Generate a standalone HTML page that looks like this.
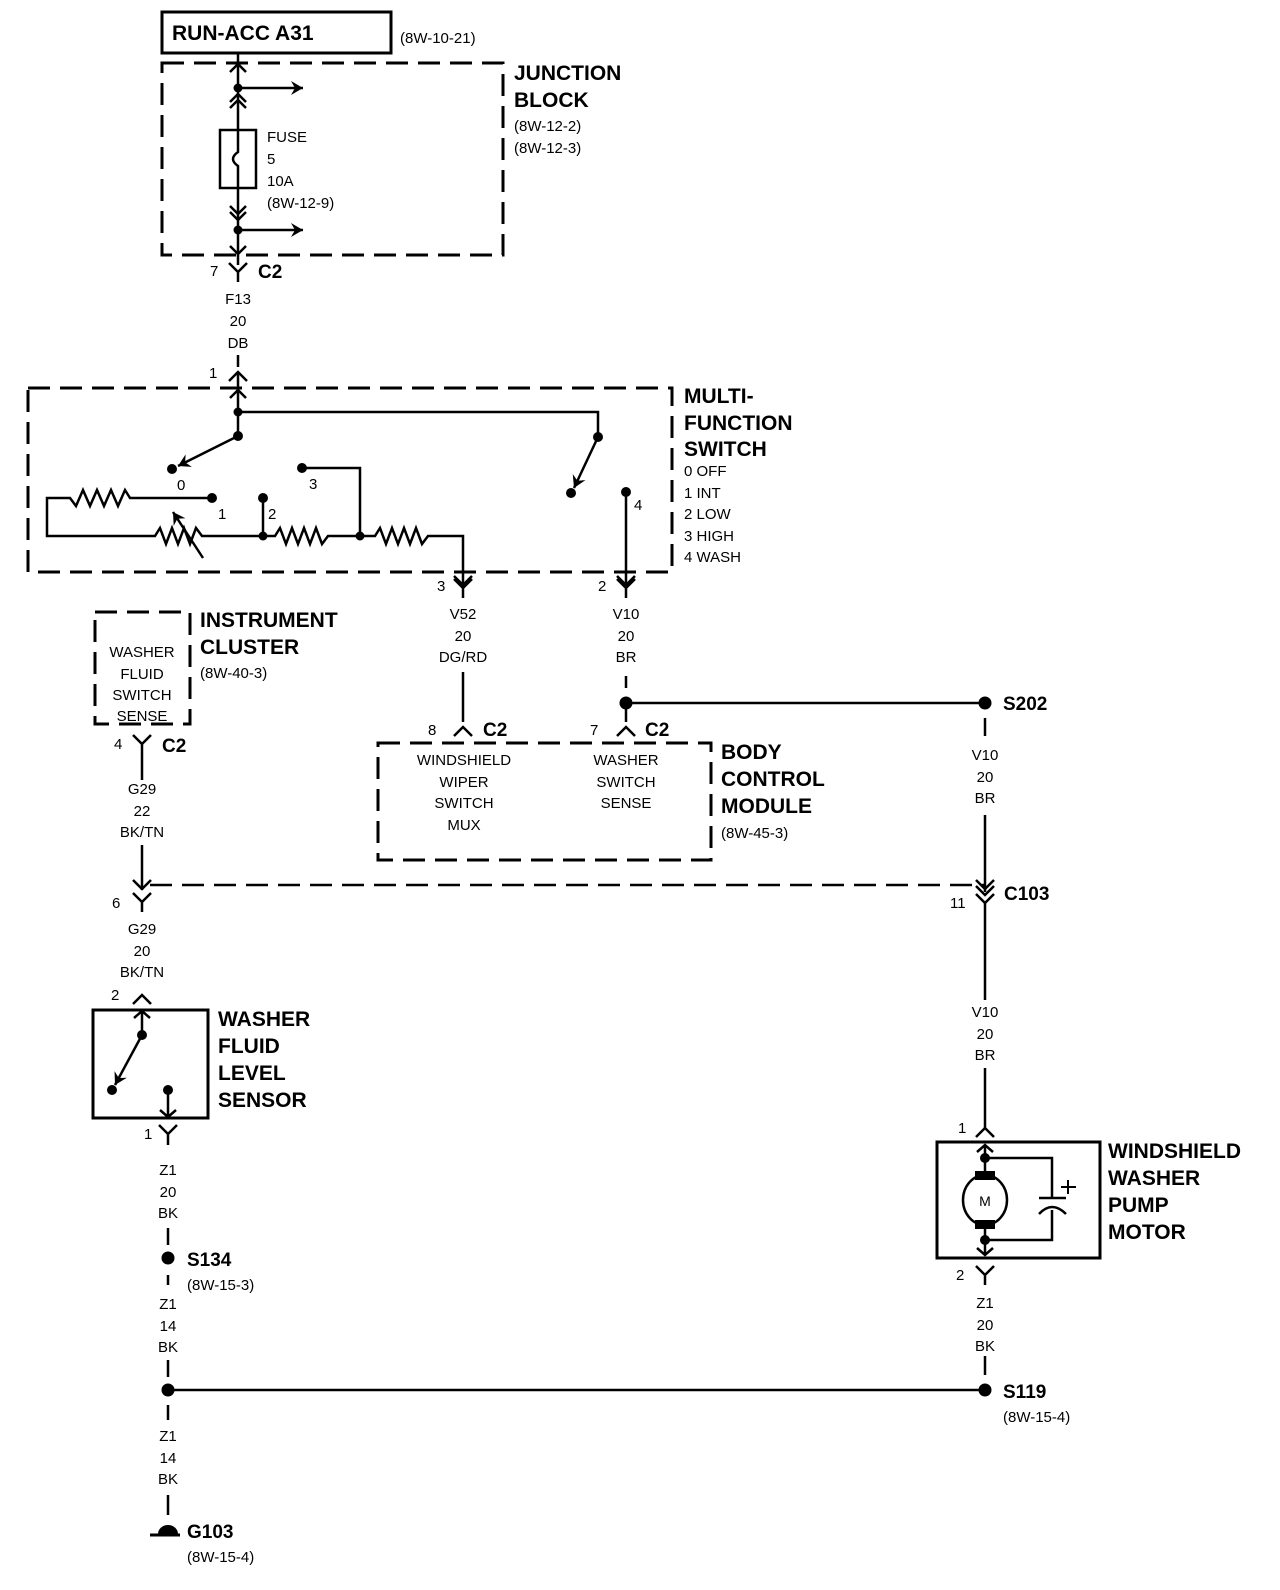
<!DOCTYPE html>
<html><head><meta charset="utf-8"><style>
html,body{margin:0;padding:0;background:#fff}
svg{display:block}
text{font-family:"Liberation Sans",sans-serif;fill:#000}
.b{font-weight:bold;font-size:21px}
.s{font-size:15px}
.c{text-anchor:middle}
</style></head><body>
<svg width="1280" height="1590" viewBox="0 0 1280 1590" xmlns="http://www.w3.org/2000/svg">
<defs>
<marker id="ar" markerWidth="14" markerHeight="14" refX="12" refY="7" orient="auto" markerUnits="userSpaceOnUse"><path d="M0,0 L12,7 L0,14 L4,7 Z" fill="#000"/></marker>
</defs>
<g stroke="#000" stroke-width="2.5" fill="none">
<rect x="162" y="12" width="229" height="41" stroke-width="3"/>
<rect x="162" y="63" width="341" height="192" stroke-dasharray="22,10" stroke-width="3"/>
<line x1="238" y1="53" x2="238" y2="130"/>
<line x1="238" y1="188" x2="238" y2="265"/>
<rect x="220" y="130" width="36" height="58"/>
<path d="M238,130 V152 Q228,159 238,166 V188"/>
<line x1="238" y1="88" x2="303" y2="88" marker-end="url(#ar)"/>
<line x1="238" y1="230" x2="303" y2="230" marker-end="url(#ar)"/>
<path d="M230,72 L238,64 L246,72 M230,102 L238,94 L246,102 M230,108 L238,100 L246,108"/>
<path d="M230,206 L238,214 L246,206 M230,212 L238,220 L246,212 M230,246 L238,254 L246,246"/>
<path d="M229,263 L238,272 L247,263 M238,272 V282"/>
<line x1="238" y1="355" x2="238" y2="367"/>
<path d="M229,381 L238,372 L247,381 M238,372 V412"/>
<rect x="28" y="388" width="644" height="184" stroke-dasharray="22,10" stroke-width="3"/>
<path d="M230,398 L238,390 L246,398"/>
<path d="M238,412 H598 V437"/>
<line x1="238" y1="412" x2="238" y2="436"/>
<line x1="238" y1="436" x2="178" y2="466" marker-end="url(#ar)"/>
<line x1="598" y1="437" x2="574" y2="488" marker-end="url(#ar)"/>
<path d="M302,468 H360 V536"/>
<path d="M212,498 H130 L125,490 L118,506 L111,490 L104,506 L97,490 L90,506 L83,490 L76,506 L70,498 H47 V536 H155 L160,528 L166,544 L172,528 L178,544 L184,528 L190,544 L196,528 L202,536 H275 L280,528 L286,544 L292,528 L298,544 L304,528 L310,544 L316,528 L322,544 L328,536 H375 L380,528 L386,544 L392,528 L398,544 L404,528 L410,544 L416,528 L422,544 L428,536 H463 V584"/>
<line x1="203" y1="558" x2="173" y2="512" marker-end="url(#ar)"/>
<line x1="263" y1="498" x2="263" y2="536"/>
<path d="M454,576 L463,585 L472,576"/>
<line x1="626" y1="492" x2="626" y2="584"/>
<path d="M617,576 L626,585 L635,576"/>
<path d="M454,579 L463,588 L472,579 M463,588 V598"/>
<path d="M617,579 L626,588 L635,579 M626,588 V598"/>
<line x1="463" y1="672" x2="463" y2="722"/>
<path d="M454,736 L463,727 L472,736"/>
<line x1="626" y1="676" x2="626" y2="688"/>
<line x1="626" y1="703" x2="626" y2="722"/>
<path d="M617,736 L626,727 L635,736"/>
<line x1="626" y1="703" x2="985" y2="703"/>
<rect x="378" y="743" width="333" height="117" stroke-dasharray="22,10" stroke-width="3"/>
<line x1="985" y1="718" x2="985" y2="736"/>
<line x1="985" y1="815" x2="985" y2="892"/>
<path d="M976,880 L985,889 L994,880 M976,886 L985,895 L994,886 M976,894 L985,903 L994,894"/>
<line x1="985" y1="903" x2="985" y2="1000"/>
<line x1="985" y1="1068" x2="985" y2="1128"/>
<path d="M976,1137 L985,1128 L994,1137"/>
<line x1="150" y1="885" x2="985" y2="885" stroke-dasharray="22,10"/>
<rect x="937" y="1142" width="163" height="116" stroke-width="3"/>
<path d="M977,1152 L985,1145 L993,1152 M985,1145 V1172 M985,1228 V1255 M977,1248 L985,1255 L993,1248"/>
<path d="M985,1158 H1052 V1198 M1052,1210 V1240 H985"/>
<line x1="1039" y1="1198" x2="1066" y2="1198"/>
<path d="M1039,1214 Q1052,1200 1066,1214"/>
<path d="M1068,1180 V1194 M1061,1187 H1076" stroke-width="2"/>
<ellipse cx="985" cy="1200" rx="22" ry="25"/>
<path d="M976,1266 L985,1275 L994,1266 M985,1275 V1285"/>
<line x1="985" y1="1356" x2="985" y2="1375"/>
<line x1="168" y1="1390" x2="985" y2="1390"/>
<rect x="95" y="612" width="95" height="112" stroke-dasharray="22,10" stroke-width="3"/>
<path d="M133,735 L142,744 L151,735 M142,744 V780"/>
<line x1="142" y1="845" x2="142" y2="890"/>
<path d="M133,880 L142,889 L151,880 M133,893 L142,902 L151,893 M142,902 V912"/>
<path d="M133,1004 L142,995 L151,1004"/>
<rect x="93" y="1010" width="115" height="108" stroke-width="3"/>
<path d="M134,1018 L142,1011 L150,1018 M142,1011 V1035"/>
<line x1="142" y1="1035" x2="115" y2="1085" marker-end="url(#ar)"/>
<path d="M168,1090 V1117 M160,1110 L168,1117 L176,1110"/>
<path d="M159,1125 L168,1134 L177,1125 M168,1134 V1145"/>
<line x1="168" y1="1228" x2="168" y2="1245"/>
<line x1="168" y1="1275" x2="168" y2="1285"/>
<line x1="168" y1="1360" x2="168" y2="1377"/>
<line x1="168" y1="1405" x2="168" y2="1420"/>
<line x1="168" y1="1495" x2="168" y2="1515"/>
<line x1="150" y1="1535" x2="180" y2="1535" stroke-width="3"/>
</g>
<g fill="#000">
<circle cx="238" cy="88" r="4.5"/><circle cx="238" cy="230" r="4.5"/>
<circle cx="238" cy="412" r="4.5"/><circle cx="238" cy="436" r="5"/><circle cx="598" cy="437" r="5"/>
<circle cx="172" cy="469" r="5"/><circle cx="302" cy="468" r="5"/><circle cx="212" cy="498" r="5"/>
<circle cx="263" cy="498" r="5"/><circle cx="263" cy="536" r="4.5"/><circle cx="360" cy="536" r="4.5"/>
<circle cx="571" cy="493" r="5"/><circle cx="626" cy="492" r="5"/>
<circle cx="626" cy="703" r="6.5"/><circle cx="985" cy="703" r="6.5"/>
<circle cx="142" cy="1035" r="5"/><circle cx="112" cy="1090" r="5"/><circle cx="168" cy="1090" r="5"/>
<circle cx="168" cy="1258" r="6.5"/><circle cx="168" cy="1390" r="6.5"/><circle cx="985" cy="1390" r="6.5"/>
<path d="M158,1534 A10,9 0 0 1 178,1534 Z"/>
<circle cx="985" cy="1158" r="5"/><circle cx="985" cy="1240" r="5"/>
<rect x="975" y="1171" width="20" height="9"/><rect x="975" y="1220" width="20" height="9"/>
</g>
<text x="172" y="40" class="b">RUN-ACC A31</text>
<text x="400" y="43" class="s">(8W-10-21)</text>
<text x="514" y="80" class="b">JUNCTION</text><text x="514" y="107" class="b">BLOCK</text>
<text x="514" y="131" class="s">(8W-12-2)</text><text x="514" y="153" class="s">(8W-12-3)</text>
<text x="267" y="142" class="s">FUSE</text><text x="267" y="164" class="s">5</text><text x="267" y="186" class="s">10A</text><text x="267" y="208" class="s">(8W-12-9)</text>
<text x="210" y="276" class="s">7</text><text x="258" y="278" class="b" style="font-size:19px">C2</text>
<text x="238" y="304" class="s c">F13</text><text x="238" y="326" class="s c">20</text><text x="238" y="348" class="s c">DB</text>
<text x="209" y="378" class="s">1</text>
<text x="684" y="403" class="b">MULTI-</text><text x="684" y="430" class="b">FUNCTION</text><text x="684" y="456" class="b">SWITCH</text>
<text x="684" y="476" class="s">0 OFF</text><text x="684" y="498" class="s">1 INT</text><text x="684" y="519" class="s">2 LOW</text><text x="684" y="541" class="s">3 HIGH</text><text x="684" y="562" class="s">4 WASH</text>
<text x="177" y="490" class="s">0</text><text x="309" y="489" class="s">3</text><text x="218" y="519" class="s">1</text><text x="268" y="519" class="s">2</text><text x="634" y="510" class="s">4</text>
<text x="437" y="591" class="s">3</text><text x="598" y="591" class="s">2</text>
<text x="463" y="619" class="s c">V52</text><text x="463" y="641" class="s c">20</text><text x="463" y="662" class="s c">DG/RD</text>
<text x="626" y="619" class="s c">V10</text><text x="626" y="641" class="s c">20</text><text x="626" y="662" class="s c">BR</text>
<text x="1003" y="710" class="b" style="font-size:19px">S202</text>
<text x="428" y="735" class="s">8</text><text x="483" y="736" class="b" style="font-size:19px">C2</text>
<text x="590" y="735" class="s">7</text><text x="645" y="736" class="b" style="font-size:19px">C2</text>
<text x="464" y="765" class="s c">WINDSHIELD</text><text x="464" y="787" class="s c">WIPER</text><text x="464" y="808" class="s c">SWITCH</text><text x="464" y="830" class="s c">MUX</text>
<text x="626" y="765" class="s c">WASHER</text><text x="626" y="787" class="s c">SWITCH</text><text x="626" y="808" class="s c">SENSE</text>
<text x="721" y="759" class="b">BODY</text><text x="721" y="786" class="b">CONTROL</text><text x="721" y="813" class="b">MODULE</text><text x="721" y="838" class="s">(8W-45-3)</text>
<text x="985" y="760" class="s c">V10</text><text x="985" y="782" class="s c">20</text><text x="985" y="803" class="s c">BR</text>
<text x="950" y="908" class="s">11</text><text x="1004" y="900" class="b" style="font-size:19px">C103</text>
<text x="985" y="1017" class="s c">V10</text><text x="985" y="1039" class="s c">20</text><text x="985" y="1060" class="s c">BR</text>
<text x="958" y="1133" class="s">1</text>
<text x="985" y="1206" class="s c" style="font-size:14px">M</text>
<text x="1108" y="1158" class="b">WINDSHIELD</text><text x="1108" y="1185" class="b">WASHER</text><text x="1108" y="1212" class="b">PUMP</text><text x="1108" y="1239" class="b">MOTOR</text>
<text x="956" y="1280" class="s">2</text>
<text x="985" y="1308" class="s c">Z1</text><text x="985" y="1330" class="s c">20</text><text x="985" y="1351" class="s c">BK</text>
<text x="1003" y="1398" class="b" style="font-size:19px">S119</text><text x="1003" y="1422" class="s">(8W-15-4)</text>
<text x="200" y="627" class="b">INSTRUMENT</text><text x="200" y="654" class="b">CLUSTER</text><text x="200" y="678" class="s">(8W-40-3)</text>
<text x="142" y="657" class="s c">WASHER</text><text x="142" y="679" class="s c">FLUID</text><text x="142" y="700" class="s c">SWITCH</text><text x="142" y="721" class="s c">SENSE</text>
<text x="114" y="749" class="s">4</text><text x="162" y="752" class="b" style="font-size:19px">C2</text>
<text x="142" y="794" class="s c">G29</text><text x="142" y="816" class="s c">22</text><text x="142" y="837" class="s c">BK/TN</text>
<text x="112" y="908" class="s">6</text>
<text x="142" y="934" class="s c">G29</text><text x="142" y="956" class="s c">20</text><text x="142" y="977" class="s c">BK/TN</text>
<text x="111" y="1000" class="s">2</text>
<text x="218" y="1026" class="b">WASHER</text><text x="218" y="1053" class="b">FLUID</text><text x="218" y="1080" class="b">LEVEL</text><text x="218" y="1107" class="b">SENSOR</text>
<text x="144" y="1139" class="s">1</text>
<text x="168" y="1175" class="s c">Z1</text><text x="168" y="1197" class="s c">20</text><text x="168" y="1218" class="s c">BK</text>
<text x="187" y="1266" class="b" style="font-size:19px">S134</text><text x="187" y="1290" class="s">(8W-15-3)</text>
<text x="168" y="1309" class="s c">Z1</text><text x="168" y="1331" class="s c">14</text><text x="168" y="1352" class="s c">BK</text>
<text x="168" y="1441" class="s c">Z1</text><text x="168" y="1463" class="s c">14</text><text x="168" y="1484" class="s c">BK</text>
<text x="187" y="1538" class="b" style="font-size:19px">G103</text><text x="187" y="1562" class="s">(8W-15-4)</text>
</svg>
</body></html>
